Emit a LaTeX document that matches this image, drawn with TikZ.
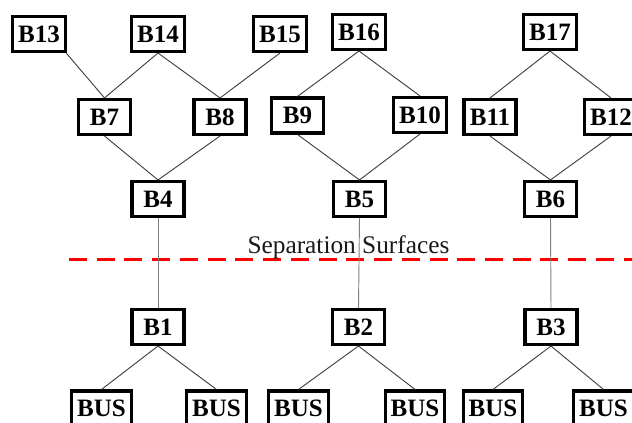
\documentclass[tikz,border=0pt]{standalone}
\usepackage{fontspec}
\setmainfont{Liberation Serif}

\begin{document}
\begin{tikzpicture}[x=0.75pt, y=-0.75pt,
    box/.style={draw, line width=2.3pt, minimum width=39pt, minimum height=26.25pt,
                inner xsep=4.1pt, font=\fontsize{18.75}{20}\selectfont\bfseries},
    link/.style={draw=black!75, line width=0.7pt},
    vlink/.style={draw=black!50, line width=0.7pt}]
    \useasboundingbox (0,0) rectangle (632,423);
    % upper part
    \node[box] (B13) at (39,34) {B13};
    \node[box] (B14) at (158,34) {B14};
    \node[box] (B15) at (280,34) {B15};
    \node[box] (B16) at (359,32) {B16};
    \node[box] (B17) at (550,32) {B17};
    \node[box] (B7) at (104.5,117) {B7};
    \node[box] (B8) at (220,117) {B8};
    \node[box] (B9) at (297.5,115.5) {B9};
    \node[box] (B10) at (420,115) {B10};
    \node[box] (B11) at (490,117) {B11};
    \node[box] (B12) at (611,117) {B12};
    \node[box] (B4) at (158,199) {B4};
    \node[box] (B5) at (359.5,199) {B5};
    \node[box] (B6) at (550.5,199) {B6};
    % lower part
    \node[box] (B1) at (158,327) {B1};
    \node[box] (B2) at (358.5,327) {B2};
    \node[box] (B3) at (551,327) {B3};
    \node[box] (bus1) at (101.5,408.5) {BUS};
    \node[box] (bus2) at (216.5,408.5) {BUS};
    \node[box] (bus3) at (298.5,408.5) {BUS};
    \node[box] (bus4) at (415,408.5) {BUS};
    \node[box] (bus5) at (493,408.5) {BUS};
    \node[box] (bus6) at (603.5,408.5) {BUS};
    % connectors
    \draw[link] (B13.-35) -- (B7.north);
    \draw[link] (B14.south) -- (B7.north);
    \draw[link] (B14.south) -- (B8.north);
    \draw[link] (B15.south) -- (B8.north);
    \draw[link] (B16.south) -- (B9.north);
    \draw[link] (B16.south) -- (B10.north);
    \draw[link] (B17.south) -- (B11.north);
    \draw[link] (B17.south) -- (B12.north);
    \draw[link] (B7.south) -- (B4.north);
    \draw[link] (B8.south) -- (B4.north);
    \draw[link] (B9.south) -- (B5.north);
    \draw[link] (B10.south) -- (B5.north);
    \draw[link] (B11.south) -- (B6.north);
    \draw[link] (B12.south) -- (B6.north);
    \draw[link] (B1.south) -- (bus1.north);
    \draw[link] (B1.south) -- (bus2.north);
    \draw[link] (B2.south) -- (bus3.north);
    \draw[link] (B2.south) -- (bus4.north);
    \draw[link] (B3.south) -- (bus5.north);
    \draw[link] (B3.south) -- (bus6.north);
    % separation
    \coordinate (cutL) at (69,259.5);
    \coordinate (cutR) at (632,259.5);
    \draw[red, line width=2.3pt, dash pattern=on 13.5pt off 7.3pt] (cutL) -- (cutR);
    \node[anchor=base, text=black!90, font=\fontsize{19}{20}\selectfont] (sep) at (348.5,254) {Separation Surfaces};
    \draw[vlink] (B4.south) -- (B1.north);
    \draw[vlink] (B5.south) -- (B2.north);
    \draw[vlink] (B6.south) -- (B3.north);
\end{tikzpicture}
\end{document}
